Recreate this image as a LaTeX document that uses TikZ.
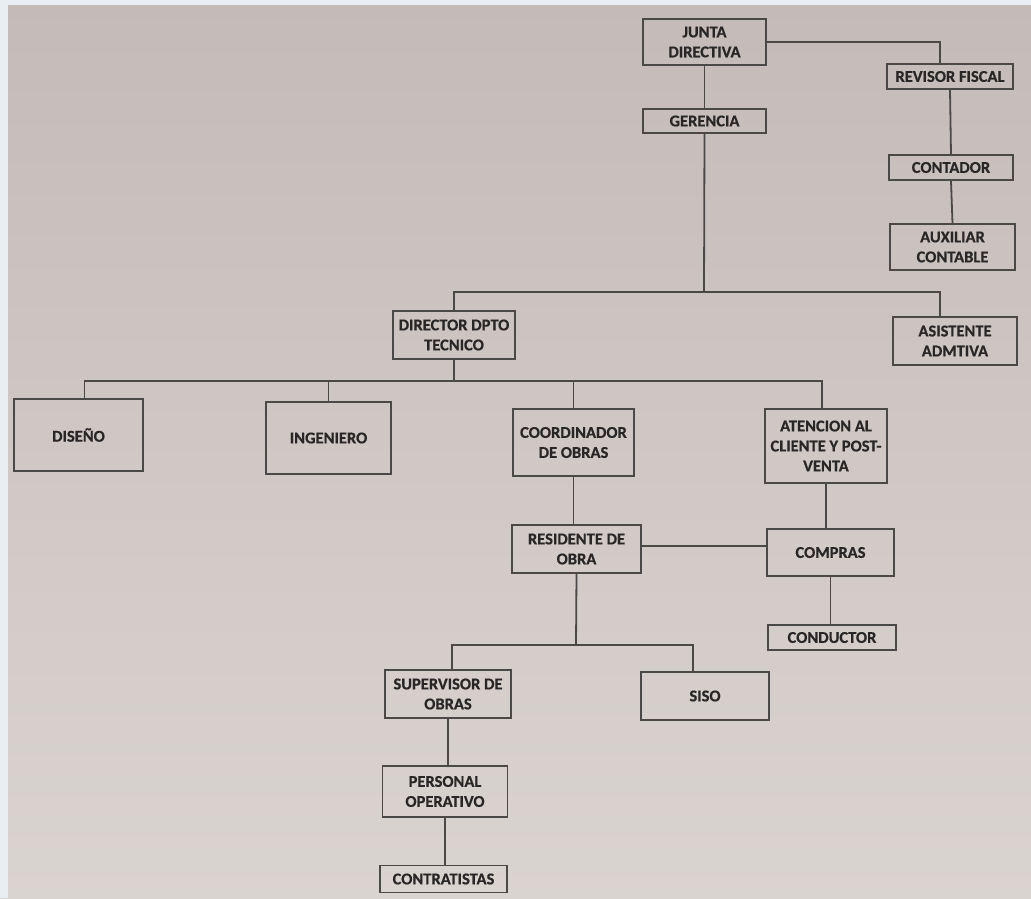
\documentclass[tikz,border=0pt]{standalone}
\usepackage{fontspec}
\setmainfont{Carlito}[BoldFeatures={FakeBold=0.6}]
\definecolor{paperA}{RGB}{196,187,184}
\definecolor{paperB}{RGB}{218,212,209}
\definecolor{rim}{RGB}{232,238,242}
\definecolor{ink}{RGB}{40,38,38}
\definecolor{wire}{RGB}{75,72,72}
\tikzset{
  box/.style={draw=wire, line width=1.8pt, fill=none, text=ink, align=center,
    font=\fontsize{16.5}{20}\selectfont\bfseries, inner sep=0pt},
  wire/.style={draw=wire, line width=1.8pt}
}
\begin{document}
\begin{tikzpicture}[x=1pt,y=-1pt]
\useasboundingbox (0,0) rectangle (1031,898);
\shade[top color=paperA, bottom color=paperB] (0,0) rectangle (1031,898);
\fill[rim] (0,0) rectangle (1031,5);
\fill[rim] (0,0) rectangle (8,898);

\node[box, minimum width=123, minimum height=46] (junta) at (704.5,42) {JUNTA\\DIRECTIVA};
\node[box, minimum width=123, minimum height=24] (gerencia) at (704.5,121) {GERENCIA};
\node[box, minimum width=126, minimum height=25] (revisor) at (950,76.5) {REVISOR FISCAL};
\node[box, minimum width=124, minimum height=25] (contador) at (951,167.5) {CONTADOR};
\node[box, minimum width=125, minimum height=46] (auxiliar) at (952.5,247) {AUXILIAR\\CONTABLE};
\node[box, minimum width=122, minimum height=48] (director) at (454,335) {DIRECTOR DPTO\\TECNICO};
\node[box, minimum width=124, minimum height=48] (asistente) at (955,341) {ASISTENTE\\ADMTIVA};
\node[box, minimum width=129, minimum height=72] (diseno) at (78.5,435) {DISEÑO};
\node[box, minimum width=125, minimum height=72] (ingeniero) at (328.5,438) {INGENIERO};
\node[box, minimum width=121, minimum height=67] (coordinador) at (573.5,442.5) {COORDINADOR\\DE OBRAS};
\node[box, minimum width=122, minimum height=74] (atencion) at (826,446) {ATENCION AL\\CLIENTE Y POST-\\VENTA};
\node[box, minimum width=129, minimum height=48] (residente) at (576.5,549) {RESIDENTE DE\\OBRA};
\node[box, minimum width=127, minimum height=47] (compras) at (830.5,552.5) {COMPRAS};
\node[box, minimum width=128, minimum height=25] (conductor) at (832,637.5) {CONDUCTOR};
\node[box, minimum width=126, minimum height=48] (supervisor) at (448,694) {SUPERVISOR DE\\OBRAS};
\node[box, minimum width=128, minimum height=48] (siso) at (705,696) {SISO};
\node[box, minimum width=125, minimum height=51] (personal) at (445,791.5) {PERSONAL\\OPERATIVO};
\node[box, minimum width=127, minimum height=27] (contratistas) at (443.5,879) {CONTRATISTAS};

\coordinate (h1) at (704,292);
\coordinate (h2) at (454,381);
\coordinate (h3) at (576,645);

\draw[wire] (junta.east) -| ([xshift=-10pt]revisor.north);
\draw[wire] (junta.south) -- (gerencia.north);
\draw[wire] (revisor.south) -- (contador.north);
\draw[wire] (contador.south) -- (auxiliar.north);

\draw[wire] (gerencia.south) -- (h1);
\draw[wire] (director.north) |- (h1) -| ([xshift=-15pt]asistente.north);

\draw[wire] (director.south) -- (h2);
\draw[wire] ([xshift=6pt]diseno.north) |- (h2) -| ([xshift=-4pt]atencion.north);
\draw[wire] (ingeniero.north) -- (ingeniero.north |- h2);
\draw[wire] (coordinador.north) -- (coordinador.north |- h2);

\draw[wire] (coordinador.south) -- (coordinador.south |- residente.north);
\draw[wire] (atencion.south) -- (atencion.south |- compras.north);
\draw[wire] ([yshift=3pt]residente.east) -- ([yshift=3pt]residente.east -| compras.west);
\draw[wire] (compras.south) -- (compras.south |- conductor.north);

\draw[wire] (residente.south) -- (h3);
\draw[wire] ([xshift=4pt]supervisor.north) |- (h3) -| ([xshift=-12pt]siso.north);
\draw[wire] (supervisor.south) -- (supervisor.south |- personal.north);
\draw[wire] (personal.south) -- (personal.south |- contratistas.north);
\end{tikzpicture}
\end{document}
